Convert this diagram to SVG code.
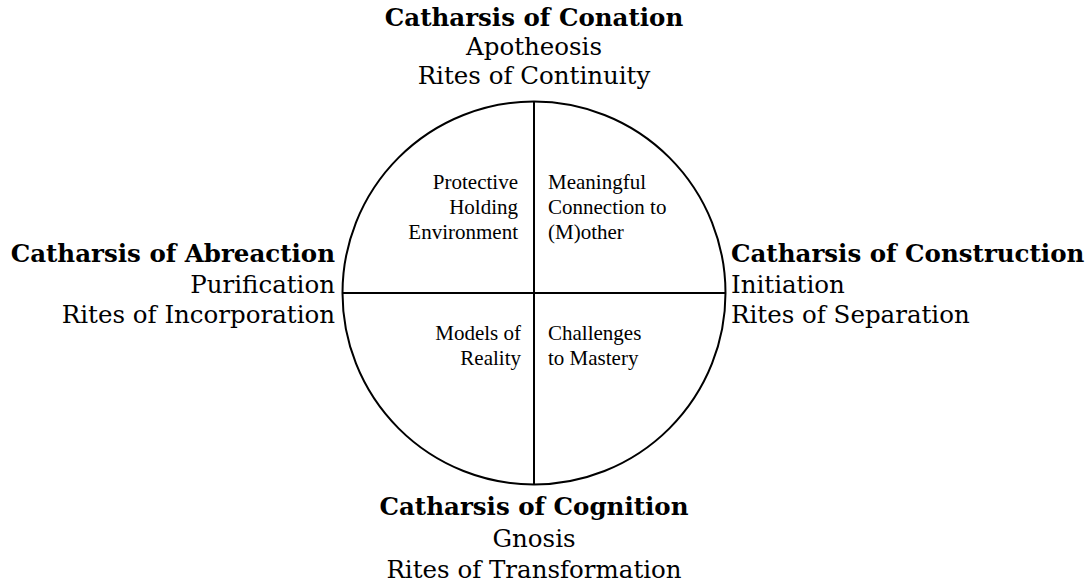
<svg xmlns="http://www.w3.org/2000/svg" width="1091" height="584" viewBox="0 0 1091 584">
<style>
.o{font-family:"DejaVu Serif","Liberation Serif",serif;font-size:24.5px;fill:#000}
.b{font-weight:bold}
.i{font-family:"Liberation Serif","Times New Roman",serif;font-size:21px;fill:#000}
.ln{stroke:#000;stroke-width:2;fill:none}
</style>
<rect width="1091" height="584" fill="#fff"/>
<g id="connectors">
<circle class="ln" cx="534" cy="293" r="191.5"/>
<line class="ln" x1="534" y1="102" x2="534" y2="484"/>
<line class="ln" x1="342" y1="293" x2="726" y2="293"/>
</g>
<g id="top" class="o" text-anchor="middle">
<text x="534" y="26" class="b">Catharsis of Conation</text>
<text x="534" y="55">Apotheosis</text>
<text x="534" y="84">Rites of Continuity</text>
</g>
<g id="left" class="o" text-anchor="end">
<text x="335" y="262" class="b">Catharsis of Abreaction</text>
<text x="335" y="293">Purification</text>
<text x="335" y="323">Rites of Incorporation</text>
</g>
<g id="right" class="o">
<text x="731" y="262" class="b">Catharsis of Construction</text>
<text x="731" y="293">Initiation</text>
<text x="731" y="323">Rites of Separation</text>
</g>
<g id="bottom" class="o" text-anchor="middle">
<text x="534" y="515" class="b">Catharsis of Cognition</text>
<text x="534" y="547">Gnosis</text>
<text x="534" y="578">Rites of Transformation</text>
</g>
<g id="q1" class="i" text-anchor="end">
<text x="518" y="189">Protective</text>
<text x="518" y="214">Holding</text>
<text x="518" y="239">Environment</text>
</g>
<g id="q2" class="i">
<text x="548" y="189">Meaningful</text>
<text x="548" y="214">Connection to</text>
<text x="548" y="239">(M)other</text>
</g>
<g id="q3" class="i" text-anchor="end">
<text x="521" y="340">Models of</text>
<text x="521" y="365">Reality</text>
</g>
<g id="q4" class="i">
<text x="548" y="340">Challenges</text>
<text x="548" y="365">to Mastery</text>
</g>
</svg>
